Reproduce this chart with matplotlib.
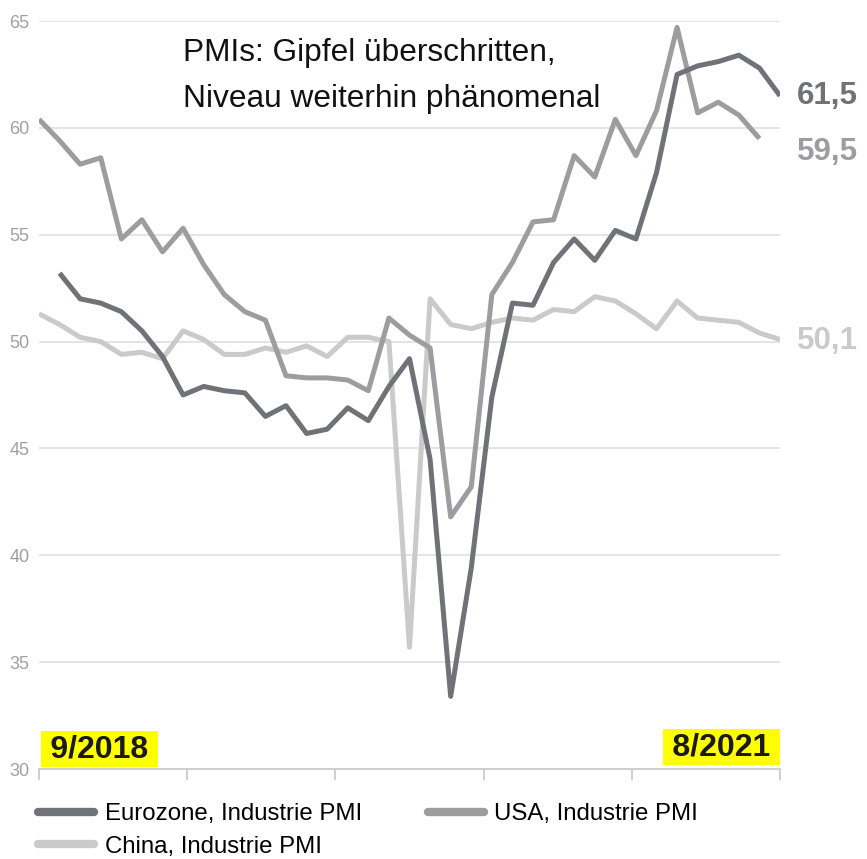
import numpy as np
import matplotlib
matplotlib.use("Agg")
import matplotlib.pyplot as plt

# ---- data (monthly, 8/2018 .. 8/2021) ----
months = ["8/2018", "9/2018", "10/2018", "11/2018", "12/2018",
          "1/2019", "2/2019", "3/2019", "4/2019", "5/2019", "6/2019", "7/2019",
          "8/2019", "9/2019", "10/2019", "11/2019", "12/2019",
          "1/2020", "2/2020", "3/2020", "4/2020", "5/2020", "6/2020", "7/2020",
          "8/2020", "9/2020", "10/2020", "11/2020", "12/2020",
          "1/2021", "2/2021", "3/2021", "4/2021", "5/2021", "6/2021", "7/2021",
          "8/2021"]

# Eurozone starts at 9/2018
eurozone = [53.2, 52.0, 51.8, 51.4, 50.5, 49.3, 47.5, 47.9, 47.7, 47.6, 46.5, 47.0,
            45.7, 45.9, 46.9, 46.3, 47.9, 49.2, 44.5, 33.4, 39.4, 47.4, 51.8, 51.7,
            53.7, 54.8, 53.8, 55.2, 54.8, 57.9, 62.5, 62.9, 63.1, 63.4, 62.8, 61.5]

# USA ends at 7/2021
usa = [60.4, 59.4, 58.3, 58.6, 54.8, 55.7, 54.2, 55.3, 53.6, 52.2, 51.4, 51.0,
       48.4, 48.3, 48.3, 48.2, 47.7, 51.1, 50.3, 49.7, 41.8, 43.2, 52.2, 53.7,
       55.6, 55.7, 58.7, 57.7, 60.4, 58.7, 60.8, 64.7, 60.7, 61.2, 60.6, 59.5]

china = [51.3, 50.8, 50.2, 50.0, 49.4, 49.5, 49.2, 50.5, 50.1, 49.4, 49.4, 49.7,
         49.5, 49.8, 49.3, 50.2, 50.2, 50.0, 35.7, 52.0, 50.8, 50.6, 50.9, 51.1,
         51.0, 51.5, 51.4, 52.1, 51.9, 51.3, 50.6, 51.9, 51.1, 51.0, 50.9, 50.4,
         50.1]

labels = ["Eurozone, Industrie PMI", "USA, Industrie PMI", "China, Industrie PMI"]
colors = ["#6f7276", "#9d9c9f", "#cacaca"]
end_labels = ["61,5", "59,5", "50,1"]
yticks = [30, 35, 40, 45, 50, 55, 60, 65]

x = np.arange(len(months))
x_eu = x[1:]
x_us = x[:len(usa)]

plt.rcParams['font.family'] = ['Liberation Sans', 'DejaVu Sans']

fig = plt.figure(figsize=(8.67, 8.59), dpi=100)
ax = fig.add_axes([39 / 867, 1 - 769 / 859, 741 / 867, 748 / 859])

lw = 3.6
l_cn, = ax.plot(x, china, color=colors[2], lw=lw, solid_capstyle='butt', label=labels[2])
l_us, = ax.plot(x_us, usa, color=colors[1], lw=lw, solid_capstyle='butt', label=labels[1])
l_eu, = ax.plot(x_eu, eurozone, color=colors[0], lw=lw, solid_capstyle='butt', label=labels[0])

ax.set_xlim(0, len(months) - 1)
ax.set_ylim(30, 65)
ax.set_yticks(yticks)
ax.set_xticks(np.linspace(0, len(months) - 1, 6))
ax.set_xticklabels([])
ax.grid(axis='y', color='#dcdcdc', lw=1.1)
ax.set_axisbelow(True)
for s in ['top', 'right', 'left']:
    ax.spines[s].set_visible(False)
ax.spines['bottom'].set_color('#cccccc')
ax.spines['bottom'].set_linewidth(1.3)
ax.tick_params(axis='y', length=0, pad=7, labelsize=13, labelcolor='#a0a0a0')
ax.tick_params(axis='x', length=8, width=1.3, color='#cccccc')

# end-of-line values (USA label pushed down a bit)
ends = [(eurozone[-1], 0), (usa[-1], -13), (china[-1], -2)]
for (val, dy), txt, c in zip(ends, end_labels, colors):
    ax.annotate(txt, xy=(x[-1], val), xytext=(17, dy), textcoords='offset pixels',
                ha='left', va='center', fontsize=22.5, fontweight='bold', color=c,
                annotation_clip=False)

# date markers
box = dict(boxstyle='square,pad=0.1', fc='#ffff00', ec='none')
ax.annotate("\u2009" + months[1] + "\u2009", xy=(x[0], 30), xytext=(5, 5),
            textcoords='offset pixels', ha='left', va='bottom', fontsize=23,
            fontweight='bold', color='#1a1a1a', bbox=box)
ax.annotate("\u2009" + months[-1] + "\u2009", xy=(x[-1], 30), xytext=(-3, 7),
            textcoords='offset pixels', ha='right', va='bottom', fontsize=23,
            fontweight='bold', color='#1a1a1a', bbox=box)

# title inside the plot
fig.text(183 / 867, 1 - 61 / 859, "PMIs: Gipfel überschritten,", fontsize=22.8,
         va='baseline', ha='left', color='#111111')
fig.text(183 / 867, 1 - 107 / 859, "Niveau weiterhin phänomenal", fontsize=22.8,
         va='baseline', ha='left', color='#111111')

leg = fig.legend([l_eu, l_cn, l_us], [labels[0], labels[2], labels[1]],
                 loc='upper left', bbox_to_anchor=(38 / 867, 1 - 803 / 859), ncol=2,
                 frameon=False, fontsize=17.3, handlelength=2.35, handletextpad=0.42,
                 columnspacing=2.75, labelspacing=0.45, borderpad=0, borderaxespad=0)
for h in leg.get_lines():
    h.set_linewidth(6)
    h.set_solid_capstyle('round')

fig.savefig("out.png", dpi=100)
